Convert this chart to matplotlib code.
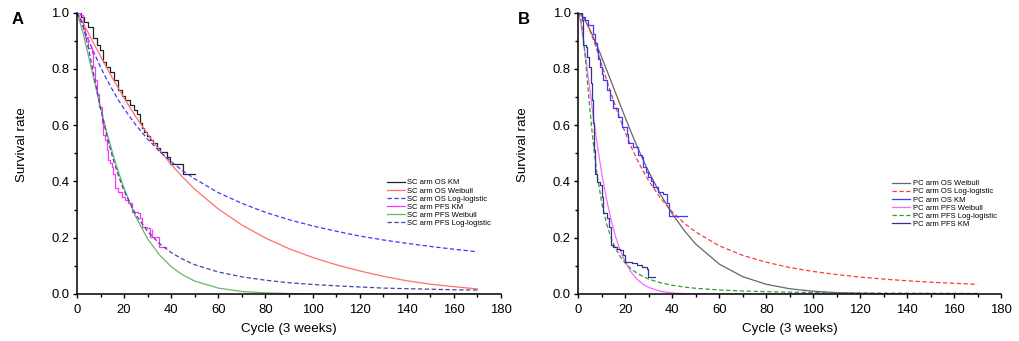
import numpy as np
import matplotlib
matplotlib.use("Agg")
import matplotlib.pyplot as plt

plt.rcParams['font.family'] = ['Liberation Sans', 'DejaVu Sans']

# ---- panel A: SC arm ----
sc_os_km_t = [0, 1.5, 3, 4.8, 7, 8.5, 9.8, 11.2, 12.5, 14, 15.5, 17.5, 19, 20.4, 22.5, 24,
              25.3, 26.7, 27.4, 28.5, 29.6, 31, 32.4, 34, 35.2, 38, 39.5, 45.1, 50]
sc_os_km_s = [1, 0.985, 0.965, 0.95, 0.91, 0.885, 0.866, 0.825, 0.805, 0.79, 0.76, 0.724, 0.705,
              0.689, 0.67, 0.655, 0.64, 0.606, 0.588, 0.575, 0.56, 0.548, 0.535, 0.52, 0.505,
              0.488, 0.462, 0.428, 0.428]

sc_pfs_km_t = [0, 1.3, 2.4, 3.4, 4.8, 6.2, 6.9, 7.6, 8.3, 9.5, 10.5, 10.9, 11.9, 12.6, 13.3, 14,
               14.7, 15.4, 16.1, 17.5, 18.9, 20.4, 21.8, 23.2, 26, 26.7, 27.4, 29.8, 31, 34.8, 37.8]
sc_pfs_km_s = [1, 0.99, 0.94, 0.914, 0.873, 0.855, 0.807, 0.76, 0.712, 0.665, 0.606, 0.565, 0.547,
               0.511, 0.476, 0.464, 0.452, 0.428, 0.375, 0.363, 0.346, 0.334, 0.322, 0.292, 0.286,
               0.269, 0.239, 0.233, 0.204, 0.166, 0.166]
sc_pfs_censor = (31.7, 0.217)

t_fit_a = [0, 2.5, 5, 7.5, 10, 12.5, 15, 17.5, 20, 25, 30, 35, 40, 45, 50, 60, 70, 80, 90, 100,
           110, 120, 130, 140, 150, 160, 170]
sc_os_weibull = [1, 0.964, 0.924, 0.884, 0.845, 0.806, 0.768, 0.732, 0.696, 0.629, 0.568, 0.511,
                 0.46, 0.414, 0.372, 0.302, 0.245, 0.199, 0.161, 0.130, 0.104, 0.082, 0.063,
                 0.047, 0.035, 0.026, 0.018]
sc_os_loglog = [1, 0.951, 0.90, 0.852, 0.806, 0.764, 0.726, 0.69, 0.658, 0.60, 0.55, 0.507, 0.47,
                0.437, 0.409, 0.36, 0.322, 0.29, 0.264, 0.242, 0.223, 0.206, 0.192, 0.18, 0.169,
                0.159, 0.15]
sc_pfs_weibull = [1, 0.93, 0.841, 0.75, 0.662, 0.579, 0.504, 0.436, 0.375, 0.273, 0.196, 0.139,
                  0.097, 0.067, 0.046, 0.021, 0.009, 0.004, 0.0016, 0.0006, 0.0002, 0, 0, 0, 0,
                  0, 0]
sc_pfs_loglog = [1, 0.957, 0.867, 0.763, 0.66, 0.568, 0.489, 0.422, 0.366, 0.281, 0.222, 0.179,
                 0.147, 0.123, 0.104, 0.078, 0.061, 0.049, 0.040, 0.034, 0.029, 0.025, 0.021,
                 0.019, 0.017, 0.015, 0.014]

# ---- panel B: PC arm ----
pc_os_km_t = [0, 1.5, 2.8, 4.2, 6.3, 7, 7.7, 8.5, 9.2, 10, 10.6, 12, 13.4, 14.8, 17, 18.4, 20.5,
              21.2, 23.4, 25.5, 26.9, 27.6, 28.8, 29.8, 31, 31.9, 34, 36.2, 37.6, 38.7, 46.4]
pc_os_km_s = [1, 0.985, 0.973, 0.955, 0.925, 0.89, 0.866, 0.835, 0.807, 0.78, 0.76, 0.724, 0.689,
              0.659, 0.63, 0.594, 0.57, 0.535, 0.523, 0.493, 0.488, 0.452, 0.435, 0.417, 0.40,
              0.381, 0.363, 0.357, 0.322, 0.277, 0.277]

pc_pfs_km_t = [0, 1.4, 1.8, 2.1, 3.2, 3.8, 4.6, 5.2, 5.6, 6.3, 6.8, 7.2, 8, 9.2, 9.9, 10.6, 12,
               13.1, 13.7, 14.8, 16.3, 17.7, 18.8, 19.8, 22.7, 24.8, 26.9, 29, 29.8, 32.6]
pc_pfs_km_s = [1, 0.973, 0.925, 0.884, 0.878, 0.843, 0.807, 0.748, 0.689, 0.606, 0.511, 0.428,
               0.399, 0.387, 0.346, 0.286, 0.269, 0.239, 0.174, 0.168, 0.159, 0.156, 0.138, 0.115,
               0.109, 0.103, 0.097, 0.088, 0.062, 0.059]

t_fit_b = [0, 1, 2, 3, 4, 5, 6, 7, 8, 10, 12, 14, 16, 18, 20, 22.5, 25, 27.5, 30, 35, 40, 45, 50,
           60, 70, 80, 90, 100, 110, 120, 130, 140, 150, 160, 170]
pc_os_weibull = [1, 0.993, 0.982, 0.969, 0.953, 0.936, 0.918, 0.899, 0.88, 0.839, 0.796, 0.753,
                 0.71, 0.667, 0.625, 0.573, 0.524, 0.477, 0.433, 0.353, 0.284, 0.226, 0.177,
                 0.106, 0.0615, 0.0344, 0.0187, 0.0098, 0.005, 0.0025, 0.0012, 0.0006, 0.0003,
                 0.0001, 0]
pc_os_loglog = [1, 0.995, 0.985, 0.971, 0.953, 0.933, 0.911, 0.888, 0.863, 0.812, 0.76, 0.71,
                0.661, 0.615, 0.571, 0.522, 0.477, 0.437, 0.401, 0.340, 0.291, 0.252, 0.22,
                0.171, 0.137, 0.113, 0.094, 0.080, 0.069, 0.060, 0.053, 0.047, 0.042, 0.038,
                0.034]
pc_pfs_weibull = [1, 0.962, 0.907, 0.845, 0.78, 0.714, 0.65, 0.589, 0.53, 0.424, 0.334, 0.259,
                  0.198, 0.15, 0.112, 0.077, 0.052, 0.035, 0.023, 0.0095, 0.0038, 0.0014, 0.0005,
                  0, 0, 0, 0, 0, 0, 0, 0, 0, 0, 0, 0]
pc_pfs_loglog = [1, 0.976, 0.914, 0.829, 0.735, 0.643, 0.558, 0.484, 0.42, 0.319, 0.248, 0.196,
                 0.159, 0.13, 0.109, 0.0887, 0.0735, 0.0618, 0.0527, 0.0397, 0.031, 0.0248,
                 0.0202, 0.0143, 0.0106, 0.0082, 0.0066, 0.0054, 0.0045, 0.0038, 0.0032, 0.0028,
                 0.0025, 0.0022, 0.0019]

DASH = (0, (3.5, 2))
LW = 0.9

fig = plt.figure(figsize=(10.2, 3.41), dpi=100)
ax_a = fig.add_axes([77 / 1020, 47 / 341, 424 / 1020, 281.5 / 341])
ax_b = fig.add_axes([578.5 / 1020, 47 / 341, 422.5 / 1020, 281.5 / 341])


def style_axes(ax, width_px):
    ax.set_xlim(0, 180)
    ax.set_ylim(0, 1.0)
    ax.set_xticks(np.arange(0, 181, 20))
    ax.set_xticks(np.arange(0, 181, 10), minor=True)
    ax.set_yticks(np.arange(0, 1.01, 0.2))
    ax.set_yticks(np.arange(0, 1.01, 0.1), minor=True)
    ax.spines['top'].set_visible(False)
    ax.spines['right'].set_visible(False)
    for s in ('left', 'bottom'):
        ax.spines[s].set_linewidth(1.1)
    ax.tick_params(which='major', direction='out', length=3.0, width=1.0, labelsize=9.4)
    ax.tick_params(axis='x', which='major', pad=4.5)
    ax.tick_params(axis='y', which='major', pad=2.5)
    ax.tick_params(which='minor', direction='out', length=2.0, width=1.0)
    ax.set_xlabel('Cycle (3 weeks)', fontsize=9.6)
    ax.set_ylabel('Survival rate', fontsize=9.6)
    ax.xaxis.set_label_coords(0.5, -0.104)
    ax.yaxis.set_label_coords(-49 / width_px, 0.53)


# panel A
ax_a.plot(sc_os_km_t, sc_os_km_s, drawstyle='steps-post', color='#222222', lw=LW, label='SC arm OS KM')
ax_a.plot(t_fit_a, sc_os_weibull, color='#ff6f6f', lw=LW, label='SC arm OS Weibull')
ax_a.plot(t_fit_a, sc_os_loglog, color='#3a3aff', lw=LW, ls=DASH, label='SC arm OS Log-logistic')
ax_a.plot(sc_pfs_km_t, sc_pfs_km_s, drawstyle='steps-post', color='#ff33ff', lw=LW, label='SC arm PFS KM')
ax_a.plot([sc_pfs_censor[0]], [sc_pfs_censor[1]], marker='|', ms=6, mew=LW, color='#ff33ff')
ax_a.plot(t_fit_a, sc_pfs_weibull, color='#66b866', lw=LW, label='SC arm PFS Weibull')
ax_a.plot(t_fit_a, sc_pfs_loglog, color='#4545a8', lw=LW, ls=DASH, label='SC arm PFS Log-logistic')
style_axes(ax_a, 424)

# panel B
ax_b.plot(t_fit_b, pc_os_weibull, color='#666666', lw=LW, label='PC arm OS Weibull')
ax_b.plot(t_fit_b, pc_os_loglog, color='#ff3a3a', lw=LW, ls=DASH, label='PC arm OS Log-logistic')
ax_b.plot(pc_os_km_t, pc_os_km_s, drawstyle='steps-post', color='#3a3aff', lw=LW, label='PC arm OS KM')
ax_b.plot(t_fit_b, pc_pfs_weibull, color='#ff66ff', lw=LW, label='PC arm PFS Weibull')
ax_b.plot(t_fit_b, pc_pfs_loglog, color='#3a9a3a', lw=LW, ls=DASH, label='PC arm PFS Log-logistic')
ax_b.plot(pc_pfs_km_t, pc_pfs_km_s, drawstyle='steps-post', color='#33338f', lw=LW, label='PC arm PFS KM')
style_axes(ax_b, 422.5)

leg_kw = dict(loc='upper left', frameon=False, fontsize=5.5, handlelength=2.4, handletextpad=0.3,
              labelspacing=0.1, borderpad=0, borderaxespad=0)
ax_a.legend(bbox_to_anchor=(0.730, 0.408), **leg_kw)
ax_b.legend(bbox_to_anchor=(0.742, 0.405), **leg_kw)

fig.text(12 / 1020, 1 - 19 / 341, 'A', fontsize=12, fontweight='bold', ha='left', va='center')
fig.text(518 / 1020, 1 - 19 / 341, 'B', fontsize=12, fontweight='bold', ha='left', va='center')

fig.savefig('out.png', dpi=100)
